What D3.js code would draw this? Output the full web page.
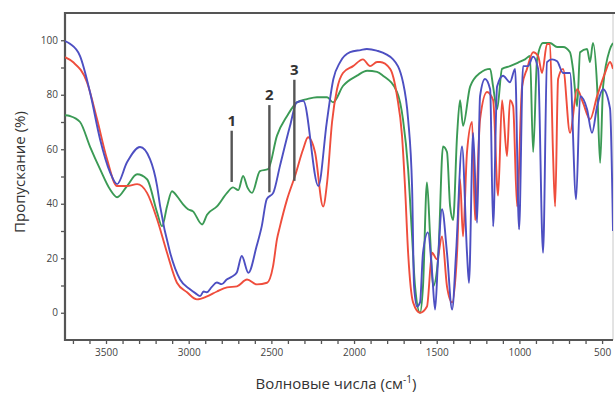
<!DOCTYPE html>
<html><head><meta charset="utf-8">
<script src="https://cdn.jsdelivr.net/npm/d3@7"></script>
<style>body{margin:0;background:#fff}svg{display:block}</style>
</head><body>
<svg id="c" width="615" height="394"></svg>
<script>
// wavenumber (cm-1) / transmittance (%) pairs
const blueW = [3748,3718,3657,3597,3536,3476,3433,3373,3294,3234,3191,3173,3113,3052,2992,2960,2931,2910,2891,2860,2830,2800,2770,2740,2709,2679,2639,2589,2558,2528,2488,2448,2387,2347,2307,2216,2165,2125,2085,2024,1960,1923,1863,1764,1704,1673,1649,1637,1619,1601,1583,1553,1528,1510,1492,1468,1438,1407,1383,1347,1317,1305,1280,1256,1238,1208,1177,1159,1135,1099,1057,1026,1002,978,948,917,887,857,833,803,772,736,694,657,633,591,561,530,494,452,434];
const blueT = [99.7,98.7,94.2,81,63.7,51.6,47.2,55.2,60.8,56.4,46.5,39.2,22.2,12.2,8.6,7.2,6.1,7.8,7.5,9.5,11.1,10.5,12.2,13.2,14.8,20.8,14.7,24.5,31.8,41.7,44.1,53.9,68.6,77.2,77.8,46.5,69.9,85.8,91.9,95.6,96.4,96.8,96.2,93,84.6,71,46,9.7,2.3,3.8,22,29.5,14.8,1.2,19.6,38,22,1.2,22,61,22,11,66,33,79.5,85.8,82,31.7,83,87,84.6,89.5,30.6,90.5,90.5,94,89.5,22,92,93,92.3,88,88,41.6,79.5,74.7,66,75.8,82,75,30];

const redW = [3748,3700,3615,3554,3494,3433,3373,3312,3252,3191,3131,3071,3010,2950,2889,2829,2768,2708,2647,2587,2526,2490,2466,2448,2405,2357,2308,2278,2236,2187,2163,2133,2103,2067,2006,1946,1903,1861,1843,1782,1740,1710,1692,1673,1643,1601,1559,1528,1498,1468,1438,1407,1377,1359,1341,1317,1286,1268,1238,1196,1159,1129,1105,1075,1057,1038,1014,984,954,917,887,863,833,815,797,784,766,736,694,651,615,573,530,482,452,434];
const redT = [93.8,92,84.6,71,56.4,46.5,46.5,47.2,44,34.3,22,11,7.5,4.9,6,7.8,9.3,9.7,12.2,10.4,11,17,27,31.7,41.6,50.2,60,64.4,58.9,39,47.8,70,82,88,90.5,93,90.5,92,92,89.5,79.5,65,46.5,22,3.8,0,2.3,22,19.6,28,9.7,3.8,22,49,28,58.9,70,34,71,81,78,43,78,57.5,78,75.8,39,83,89.5,95.6,94.2,88,98.6,98.6,59,39,85.8,89.5,66,82,77,71,79.5,88,92,89.5];

const greenW = [3748,3718,3657,3597,3536,3476,3433,3373,3312,3252,3191,3161,3131,3101,3071,3034,3004,2974,2919,2889,2829,2768,2732,2700,2671,2645,2617,2569,2520,2466,2405,2345,2284,2224,2163,2127,2067,1982,1921,1861,1825,1740,1704,1673,1649,1631,1601,1583,1559,1540,1522,1492,1462,1438,1419,1401,1377,1359,1341,1298,1238,1177,1159,1135,1105,1057,1008,966,936,917,893,857,815,772,736,694,676,651,633,591,573,555,530,512,494,452,434];
const greenT = [72.5,72.2,70,61,52.7,45.3,42.4,46.5,50.8,49,36.8,31.7,39,44.6,42.8,39.8,38,37.2,32.4,36,39,44,46,45,50.2,46,44,52,52.7,65,72.2,77.2,78.4,79.1,79.1,77.2,83.2,87,88.8,88.4,87,81,71,52.7,28,9.7,0,9.7,47.8,28,9.7,19.6,61,59,39,34,65,78,68.6,83,88,89.5,83,74.7,89.5,90.5,91.8,93,94.2,59,93,99,99,97.5,97.5,95.6,89.5,75.8,95.6,96.8,92,99,83,55,83,96.8,99];

const xTickMajor = [3500,3000,2500,2000,1500,1000,500];
const yTickMajor = [0,20,40,60,80,100];
const markNames = ["1","2","3"];
const markW = [2740,2512,2361];
const markLow = [48,44.2,48.4];
const markHigh = [66.8,76.2,85.5];

const svg = d3.select("#c");
const L=65,R=613,T=13,B=340;
const x = d3.scaleLinear().domain([3748,434]).range([L,R]);
const y = d3.scaleLinear().domain([-10,110]).range([B,T]);

svg.append("defs").append("clipPath").attr("id","cp")
  .append("rect").attr("x",L).attr("y",T).attr("width",R-L).attr("height",B-T);

svg.append("line").attr("x1",R).attr("x2",R).attr("y1",T).attr("y2",B)
  .attr("stroke","#c8c8c8").attr("stroke-width",1);

const xMinor = d3.range(3700,400,-100);
const yMinor = d3.range(0,101,10);
const tickCol = "#555";
const xAxis = svg.append("g").attr("transform",`translate(0,${B})`)
  .call(d3.axisBottom(x).tickValues(xMinor).tickSize(4).tickFormat(d=>xTickMajor.includes(d)?d:""));
const yAxis = svg.append("g").attr("transform",`translate(${L},0)`)
  .call(d3.axisLeft(y).tickValues(yMinor).tickSize(4).tickFormat(d=>yTickMajor.includes(d)?d:""));
[xAxis,yAxis].forEach(g=>{
  g.select(".domain").remove();
  g.selectAll(".tick line").attr("stroke",tickCol).attr("stroke-width",1.3);
  g.selectAll(".tick text").attr("fill","#444").style("font-family","'Open Sans',sans-serif").style("font-size","10px");
});
xAxis.selectAll(".tick text").attr("dy","0").attr("y",16);
yAxis.selectAll(".tick text").attr("x",-7);

svg.append("path").attr("d",`M${R+2},${T}H${L}V${B}H${R}`)
  .attr("fill","none").attr("stroke","#555").attr("stroke-width",2.2);

const series = [
  {w:greenW,t:greenT,c:"#3b9a55"},
  {w:redW,t:redT,c:"#ef4d3c"},
  {w:blueW,t:blueT,c:"#4d4fc2"}
];
const line = d3.line().x(d=>x(d[0])).y(d=>y(d[1])).curve(d3.curveMonotoneX);
const g = svg.append("g").attr("clip-path","url(#cp)");
series.forEach(s=>{
  g.append("path").datum(s.w.map((w,i)=>[w,s.t[i]]))
    .attr("d",line).attr("fill","none").attr("stroke",s.c)
    .attr("stroke-width",1.9).attr("stroke-linejoin","round");
});

markNames.forEach((n,i)=>{
  svg.append("line").attr("x1",x(markW[i])).attr("x2",x(markW[i]))
    .attr("y1",y(markHigh[i])).attr("y2",y(markLow[i]))
    .attr("stroke","#555").attr("stroke-width",2.4);
  svg.append("text").attr("x",x(markW[i])).attr("y",y(markHigh[i])-5)
    .attr("text-anchor","middle").attr("fill","#333")
    .style("font-family","'Open Sans',sans-serif").style("font-weight","bold").style("font-size","15px")
    .text(n);
});

svg.append("text").attr("transform","translate(25,172) rotate(-90)")
  .attr("text-anchor","middle").attr("fill","#333")
  .style("font-family","'Open Sans',sans-serif").style("font-size","15px")
  .text("Пропускание (%)");
const xt = svg.append("text").attr("x",336).attr("y",389).attr("text-anchor","middle").attr("fill","#333")
  .style("font-family","'Open Sans',sans-serif").style("font-size","15px");
xt.append("tspan").text("Волновые числа (см");
xt.append("tspan").attr("dy",-6).style("font-size","10px").text("-1");
xt.append("tspan").attr("dy",6).text(")");
</script>
</body></html>
